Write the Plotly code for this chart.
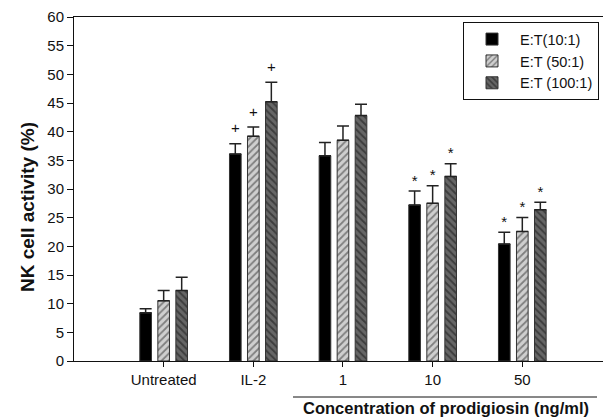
import plotly.graph_objects as go

categories = ["Untreated", "IL-2", "1", "10", "50"]
series_names = ["E:T(10:1)", "E:T (50:1)", "E:T (100:1)"]

et10 = [8.4, 36.1, 35.8, 27.2, 20.4]
et10_err = [0.7, 1.8, 2.3, 2.45, 2.05]
et50 = [10.5, 39.2, 38.5, 27.5, 22.6]
et50_err = [1.8, 1.6, 2.5, 3.05, 2.45]
et100 = [12.3, 45.2, 42.8, 32.2, 26.4]
et100_err = [2.3, 3.4, 2.0, 2.2, 1.3]

sig10 = ["", "+", "", "*", "*"]
sig50 = ["", "+", "", "*", "*"]
sig100 = ["", "+", "", "*", "*"]

values = [et10, et50, et100]
errors = [et10_err, et50_err, et100_err]
sigs = [sig10, sig50, sig100]

FONT = "Arial, Liberation Sans, sans-serif"
INK = "#111111"
slot = 0.201
bar_w = 0.13
offsets = [-slot, 0.0, slot]

styles = [
    dict(color="#000000", pattern=dict(shape="")),
    dict(color="#cfcfcf", pattern=dict(shape="/", fgcolor="#2e2e2e", bgcolor="#cfcfcf", size=5, solidity=0.35)),
    dict(color="#666666", pattern=dict(shape="\\", fgcolor="#141414", bgcolor="#666666", size=5, solidity=0.4)),
]

fig = go.Figure()
xs = list(range(len(categories)))
for k in range(3):
    st = styles[k]
    fig.add_trace(go.Bar(
        x=[i + offsets[k] for i in xs],
        y=values[k],
        width=bar_w,
        name=series_names[k],
        marker=dict(color=st["color"], pattern=st["pattern"],
                    line=dict(color="#333333", width=1)),
        error_y=dict(type="data", array=errors[k], arrayminus=[0] * len(xs),
                     symmetric=False, color="#222222", thickness=1.5, width=6),
    ))

for k in range(3):
    tx, ty, tt = [], [], []
    for i in xs:
        s = sigs[k][i]
        if s:
            tx.append(i + offsets[k])
            off = 2.5 if s == "+" else 1.6
            ty.append(values[k][i] + errors[k][i] + off)
            tt.append(s)
    fig.add_trace(go.Scatter(
        x=tx, y=ty, text=tt, mode="text", showlegend=False,
        textposition="middle center",
        textfont=dict(family=FONT, size=15, color=INK),
        hoverinfo="skip",
    ))

fig.update_layout(
    width=603, height=418,
    margin=dict(l=74, r=0, t=17, b=57),
    plot_bgcolor="white", paper_bgcolor="white",
    barmode="overlay",
    font=dict(family=FONT, size=15, color=INK),
    legend=dict(
        x=(463 - 74) / 529, y=0.985, xanchor="left", yanchor="top",
        bordercolor=INK, borderwidth=1, bgcolor="white",
        font=dict(family=FONT, size=14.5, color=INK),
        tracegroupgap=0, itemwidth=46,
    ),
    xaxis=dict(
        range=[-1.0, 4.9], tickmode="array", tickvals=xs, ticktext=categories,
        showline=True, linecolor=INK, linewidth=1, mirror=True,
        ticks="outside", ticklen=5, tickcolor=INK,
        showgrid=False, zeroline=False,
        tickfont=dict(family=FONT, size=15, color=INK),
    ),
    yaxis=dict(
        range=[0, 60], tickmode="array", tickvals=list(range(0, 61, 5)),
        showline=True, linecolor=INK, linewidth=1,
        ticks="outside", ticklen=6, tickcolor=INK,
        showgrid=False, zeroline=False,
        tickfont=dict(family=FONT, size=15, color=INK),
    ),
)

fig.add_annotation(text="<b>NK cell activity (%)</b>",
                   xref="paper", yref="paper",
                   x=(27 - 74) / 529, y=(361 - 207) / 344,
                   xanchor="center", yanchor="middle", textangle=-90,
                   showarrow=False,
                   font=dict(family=FONT, size=19, color=INK))

fig.add_shape(type="line", xref="paper", yref="paper",
              x0=(293 - 74) / 529, x1=(597 - 74) / 529,
              y0=-(397 - 361) / 344, y1=-(397 - 361) / 344,
              line=dict(color=INK, width=1))
fig.add_annotation(text="<b>Concentration of prodigiosin (ng/ml)</b>",
                   xref="paper", yref="paper",
                   x=(445.5 - 74) / 529, y=-(408 - 361) / 344,
                   xanchor="center", yanchor="middle",
                   showarrow=False,
                   font=dict(family=FONT, size=16.5, color=INK))

fig.write_html("out.html",
               config={"displayModeBar": False},
               post_script="document.body.style.margin='0';document.body.style.padding='0';")
